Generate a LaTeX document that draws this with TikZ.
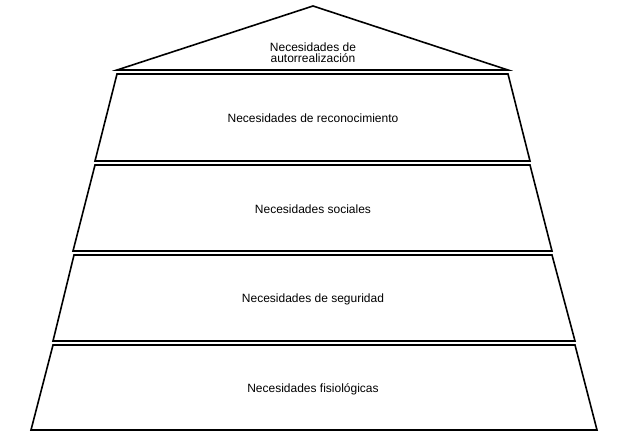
\documentclass[tikz,border=0pt]{standalone}
\usepackage{fontspec}
\setmainfont{Liberation Sans}
\begin{document}
\begin{tikzpicture}[x=1pt,y=-1pt,
  level/.style={draw=black,line width=1.6pt,line join=miter},
  lbl/.style={font=\fontsize{12}{14}\selectfont,align=center}]
\useasboundingbox (0,0) rectangle (640,439);
\draw[level] (117,70) -- (313,6) -- (508,70) -- cycle;
\draw[level] (117,74) -- (508,74) -- (530,161) -- (95,161) -- cycle;
\draw[level] (95,165) -- (530,165) -- (552,251) -- (73,251) -- cycle;
\draw[level] (74,255) -- (552,255) -- (575,341) -- (53,341) -- cycle;
\draw[level] (53,345) -- (575,345) -- (597,430) -- (31,430) -- cycle;
\node[lbl] (t1) at (313,53) {Necesidades de\\[-3pt]autorrealización};
\node[lbl] (t2) at (313,118) {Necesidades de reconocimiento};
\node[lbl] (t3) at (313,209) {Necesidades sociales};
\node[lbl] (t4) at (313,299) {Necesidades de seguridad};
\node[lbl] (t5) at (313,389) {Necesidades fisiológicas};
\end{tikzpicture}
\end{document}
